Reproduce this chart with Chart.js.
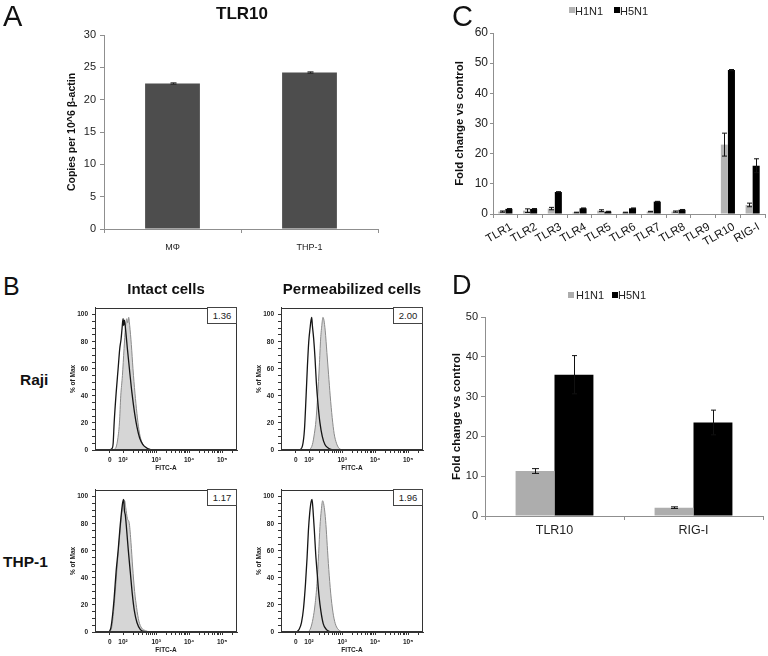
<!DOCTYPE html>
<html><head><meta charset="utf-8">
<script src="https://cdn.jsdelivr.net/npm/chart.js@4.4.1/dist/chart.umd.min.js"></script>
<style>
html,body{margin:0;padding:0;background:#fff;}
#fig{position:relative;width:768px;height:656px;overflow:hidden;font-family:'Liberation Sans',Arial,sans-serif;color:#111;}
canvas{position:absolute;}
.t{position:absolute;line-height:1;white-space:nowrap;}
.num{position:absolute;box-sizing:border-box;border:1px solid #444;width:30px;height:17px;font-size:9.5px;line-height:15px;text-align:center;background:#fff;color:#222;}
.sq{position:absolute;width:6px;height:6px;}
.lg{position:absolute;font-size:11px;line-height:1;white-space:nowrap;color:#222;}
</style></head><body><div id="fig">
<canvas id="cA" width="384" height="260" style="left:0;top:0"></canvas>
<canvas id="cC" width="384" height="270" style="left:384px;top:0"></canvas>
<canvas id="cD" width="384" height="290" style="left:384px;top:270px"></canvas>
<canvas id="fTL" width="182" height="174" style="left:60px;top:300px"></canvas>
<canvas id="fTR" width="182" height="174" style="left:246px;top:300px"></canvas>
<canvas id="fBL" width="182" height="174" style="left:60px;top:482px"></canvas>
<canvas id="fBR" width="182" height="174" style="left:246px;top:482px"></canvas>

<div class="t" style="left:3px;top:2px;font-size:29px">A</div>
<div class="t" style="left:142px;width:200px;text-align:center;top:4.8px;font-size:17px;font-weight:bold">TLR10</div>
<div class="t" style="left:452px;top:2px;font-size:29px">C</div>
<div class="t" style="left:3px;top:273.7px;font-size:25px">B</div>
<div class="t" style="left:452px;top:271.5px;font-size:27px">D</div>
<div class="t" style="left:66px;width:200px;text-align:center;top:281px;font-size:15px;font-weight:bold">Intact cells</div>
<div class="t" style="left:252px;width:200px;text-align:center;top:281px;font-size:15px;font-weight:bold">Permeabilized cells</div>
<div class="t" style="left:20px;top:372px;font-size:15.5px;font-weight:bold">Raji</div>
<div class="t" style="left:3px;top:554px;font-size:15.5px;font-weight:bold">THP-1</div>

<div class="num" style="left:207px;top:307px">1.36</div>
<div class="num" style="left:393px;top:307px">2.00</div>
<div class="num" style="left:207px;top:489px">1.17</div>
<div class="num" style="left:393px;top:489px">1.96</div>

<div class="sq" style="left:569px;top:7px;background:#b3b3b3"></div>
<div class="lg" style="left:575px;top:5.6px">H1N1</div>
<div class="sq" style="left:614px;top:7px;background:#000"></div>
<div class="lg" style="left:620px;top:5.6px">H5N1</div>

<div class="sq" style="left:568px;top:292px;background:#adadad"></div>
<div class="lg" style="left:576px;top:289.6px">H1N1</div>
<div class="sq" style="left:612px;top:292px;background:#000"></div>
<div class="lg" style="left:618px;top:289.6px">H5N1</div>
</div>
<script>
// ---------- Panel A ----------
const aCategories = ['MΦ', 'THP-1'];
const aValues = [22.5, 24.2];
const aErrors = [0.1, 0.1];

// ---------- Panel C ----------
const cCategories = ['TLR1','TLR2','TLR3','TLR4','TLR5','TLR6','TLR7','TLR8','TLR9','TLR10','RIG-I'];
const cH1N1 = [0.8, 1.1, 1.8, 0.5, 1.1, 0.5, 0.8, 0.8, 0, 23.0, 3.0];
const cH5N1 = [1.7, 1.7, 7.3, 1.9, 0.8, 1.9, 4.1, 1.4, 0, 47.7, 16.0];
const cH1N1Err = [0.2, 0.6, 0.4, 0.1, 0.3, 0.1, 0.1, 0.2, 0, 3.8, 0.6];
const cH5N1Err = [0.1, 0.1, 0.1, 0.1, 0.1, 0.1, 0.1, 0.1, 0, 0.2, 2.3];

// ---------- Panel D ----------
const dCategories = ['TLR10', 'RIG-I'];
const dH1N1 = [11.3, 2.1];
const dH5N1 = [35.5, 23.5];
const dH1N1Err = [0.6, 0.2];
const dH5N1Err = [4.8, 3.1];

// ---------- Panel B (flow histograms, x in display decades) ----------
const flowTickValues = [1.6, 2, 3, 4, 5];
const flowTickLabels = ['0', '10²', '10³', '10⁴', '10⁵'];
const rajiIntactIso = [[1.55,0],[1.66,1],[1.70,5],[1.73,20],[1.79,42],[1.85,60],[1.90,75],[1.94,82],[1.97,90],[2.00,97],[2.02,92],[2.04,96],[2.08,88],[2.13,75],[2.20,58],[2.27,42],[2.35,27],[2.42,17],[2.50,9],[2.60,4],[2.72,1.5],[2.85,0]];
const rajiIntactTlr = [[1.72,0],[1.80,3],[1.86,12],[1.89,20],[1.93,40],[1.98,55],[2.03,75],[2.07,90],[2.11,97],[2.14,94],[2.17,98],[2.20,92],[2.25,78],[2.30,60],[2.36,42],[2.42,27],[2.48,15],[2.55,7],[2.63,3],[2.75,1],[2.90,0]];
const rajiPermIso = [[1.72,0],[1.80,3],[1.86,15],[1.91,40],[1.95,62],[1.99,80],[2.03,90],[2.06,96],[2.08,98],[2.10,92],[2.14,82],[2.18,68],[2.22,50],[2.27,34],[2.33,20],[2.40,10],[2.48,4],[2.58,1.5],[2.70,0]];
const rajiPermTlr = [[2.02,0],[2.10,4],[2.16,12],[2.21,22],[2.26,40],[2.31,62],[2.35,82],[2.39,93],[2.42,98],[2.45,96],[2.49,88],[2.54,72],[2.59,56],[2.64,40],[2.70,24],[2.76,12],[2.83,5],[2.90,1.5],[3.00,0]];
const thpIntactIso = [[1.58,0],[1.63,3],[1.68,12],[1.73,25],[1.79,45],[1.85,60],[1.90,75],[1.95,88],[1.99,96],[2.02,98],[2.04,90],[2.07,86],[2.11,75],[2.16,60],[2.22,44],[2.28,28],[2.34,16],[2.42,7],[2.52,2],[2.68,0]];
const thpIntactTlr = [[1.60,0],[1.66,4],[1.72,17],[1.78,35],[1.84,55],[1.90,72],[1.96,88],[2.00,95],[2.05,97],[2.08,92],[2.13,84],[2.19,80],[2.24,66],[2.29,48],[2.35,30],[2.41,18],[2.48,8],[2.56,3],[2.68,1],[2.80,0]];
const thpPermIso = [[1.62,0],[1.70,2],[1.77,7],[1.83,17],[1.89,35],[1.94,55],[1.98,75],[2.02,88],[2.06,96],[2.09,98],[2.12,90],[2.16,75],[2.20,58],[2.25,42],[2.30,27],[2.36,15],[2.43,6],[2.52,2],[2.65,0]];
const thpPermTlr = [[1.98,0],[2.05,3],[2.12,10],[2.18,20],[2.24,36],[2.29,58],[2.33,78],[2.37,90],[2.41,97],[2.44,95],[2.48,88],[2.52,76],[2.56,60],[2.61,42],[2.67,25],[2.74,12],[2.81,5],[2.90,1.5],[3.00,0]];

Chart.defaults.font.family = "'Liberation Sans', Arial, sans-serif";
Chart.defaults.color = '#222';
Chart.defaults.animation = false;

const errorBars = {
  id: 'errorBars',
  afterDatasetsDraw(chart, args, opts) {
    const ctx = chart.ctx, ys = chart.scales.y;
    chart.data.datasets.forEach((ds, i) => {
      if (!ds.errors) return;
      const meta = chart.getDatasetMeta(i);
      meta.data.forEach((bar, j) => {
        const v = ds.data[j], e = ds.errors[j];
        if (!e) return;
        const yT = ys.getPixelForValue(v + e), yB = ys.getPixelForValue(v - e);
        const c = (ds.errCap != null ? ds.errCap : (opts.cap || 3));
        const x = Math.round(bar.x) + 0.5;
        ctx.save();
        ctx.strokeStyle = opts.color || '#000';
        ctx.lineWidth = 1;
        ctx.beginPath();
        ctx.moveTo(x, yT); ctx.lineTo(x, yB);
        ctx.moveTo(x - c, yT); ctx.lineTo(x + c, yT);
        ctx.moveTo(x - c, yB); ctx.lineTo(x + c, yB);
        ctx.stroke();
        ctx.restore();
      });
    });
  }
};

const frame = {
  id: 'frame',
  afterDraw(chart) {
    const {ctx, chartArea: a} = chart;
    ctx.save();
    ctx.strokeStyle = '#333';
    ctx.lineWidth = 1;
    ctx.strokeRect(Math.round(a.left) + 0.5, Math.round(a.top) + 0.5, Math.round(a.width) - 1, Math.round(a.height) - 1);
    ctx.restore();
  }
};

const axisGrey = '#8f8f8f';

// Panel A
new Chart(document.getElementById('cA'), {
  type: 'bar',
  data: { labels: aCategories, datasets: [{ data: aValues, errors: aErrors, backgroundColor: '#4d4d4d', borderWidth: 0, barPercentage: 1, categoryPercentage: 0.4 }] },
  options: {
    responsive: false, devicePixelRatio: 1,
    layout: { padding: { left: 0, top: 35, right: 6, bottom: 0 } },
    plugins: { legend: { display: false }, tooltip: { enabled: false }, errorBars: { cap: 3, color: '#222' } },
    scales: {
      x: { grid: { display: true, drawOnChartArea: false, tickLength: 4, color: axisGrey }, border: { color: axisGrey },
           ticks: { font: { size: 9 }, padding: 9 }, afterFit: s => { s.height = 31; } },
      y: { min: 0, max: 30, ticks: { stepSize: 5, font: { size: 11 }, padding: 4 },
           grid: { display: true, drawOnChartArea: false, tickLength: 4, color: axisGrey }, border: { color: axisGrey },
           title: { display: true, text: 'Copies per 10^6 β-actin', font: { size: 10.5, weight: 'bold' }, padding: { top: 65.7, bottom: 0 }, color: '#111' },
           afterFit: s => { s.width = 104; } }
    }
  },
  plugins: [errorBars]
});

// Panel C
new Chart(document.getElementById('cC'), {
  type: 'bar',
  data: { labels: cCategories, datasets: [
    { label: 'H1N1', data: cH1N1, errors: cH1N1Err, backgroundColor: '#b3b3b3', borderWidth: 0, barPercentage: 1, categoryPercentage: 0.57 },
    { label: 'H5N1', data: cH5N1, errors: cH5N1Err, backgroundColor: '#000000', borderWidth: 0, barPercentage: 1, categoryPercentage: 0.57 }
  ] },
  options: {
    responsive: false, devicePixelRatio: 1,
    layout: { padding: { left: 0, top: 33, right: 3, bottom: 0 } },
    plugins: { legend: { display: false }, tooltip: { enabled: false }, errorBars: { cap: 2.5, color: '#111' } },
    scales: {
      x: { grid: { display: true, drawOnChartArea: false, tickLength: 4, color: axisGrey }, border: { color: axisGrey },
           ticks: { font: { size: 11.5 }, color: '#111', padding: 2, minRotation: 30, maxRotation: 30, autoSkip: false, labelOffset: 6 },
           afterFit: s => { s.height = 56; } },
      y: { min: 0, max: 60, ticks: { stepSize: 10, font: { size: 12 }, padding: 2 },
           grid: { display: true, drawOnChartArea: false, tickLength: 3, color: axisGrey }, border: { color: axisGrey },
           title: { display: true, text: 'Fold change vs control', font: { size: 11.4, weight: 'bold' }, padding: { top: 69.2, bottom: 0 }, color: '#111' },
           afterFit: s => { s.width = 109; } }
    }
  },
  plugins: [errorBars]
});

// Panel D
new Chart(document.getElementById('cD'), {
  type: 'bar',
  data: { labels: dCategories, datasets: [
    { label: 'H1N1', data: dH1N1, errors: dH1N1Err, errCap: 3.5, backgroundColor: '#adadad', borderWidth: 0, barPercentage: 1, categoryPercentage: 0.56 },
    { label: 'H5N1', data: dH5N1, errors: dH5N1Err, errCap: 2.5, backgroundColor: '#000000', borderWidth: 0, barPercentage: 1, categoryPercentage: 0.56 }
  ] },
  options: {
    responsive: false, devicePixelRatio: 1,
    layout: { padding: { left: 0, top: 47, right: 5, bottom: 0 } },
    plugins: { legend: { display: false }, tooltip: { enabled: false }, errorBars: { cap: 3, color: '#111' } },
    scales: {
      x: { grid: { display: true, drawOnChartArea: false, tickLength: 4, color: axisGrey }, border: { color: axisGrey },
           ticks: { font: { size: 12.5 }, padding: 3 }, afterFit: s => { s.height = 44; } },
      y: { min: 0, max: 50, ticks: { stepSize: 10, font: { size: 11 }, padding: 3 },
           grid: { display: true, drawOnChartArea: false, tickLength: 4, color: axisGrey }, border: { color: axisGrey },
           title: { display: true, text: 'Fold change vs control', font: { size: 11.6, weight: 'bold' }, padding: { top: 66, bottom: 0 }, color: '#111' },
           afterFit: s => { s.width = 101; } }
    }
  },
  plugins: [errorBars]
});

// Panel B histograms
function toXY(arr) { return arr.map(p => ({ x: p[0], y: p[1] })); }
function makeFlow(id, iso, tlr) {
  new Chart(document.getElementById(id), {
    type: 'line',
    data: { datasets: [
      { data: toXY(iso), borderColor: '#151515', borderWidth: 1.3, fill: false, pointRadius: 0, cubicInterpolationMode: 'monotone', order: 0 },
      { data: toXY(tlr), borderColor: '#8a8a8a', backgroundColor: '#d6d6d6', borderWidth: 1, fill: 'origin', pointRadius: 0, cubicInterpolationMode: 'monotone', order: 1 }
    ] },
    options: {
      responsive: false, devicePixelRatio: 1,
      layout: { padding: { left: 0, top: 7, right: 5, bottom: 0 } },
      plugins: { legend: { display: false }, tooltip: { enabled: false } },
      scales: {
        x: { type: 'linear', min: 1.15, max: 5.45,
             afterBuildTicks: s => {
               const t = flowTickValues.map(v => ({ value: v }));
               [2, 3, 4, 5].forEach(d => { for (let k = 2; k <= 9; k++) { const v = d + Math.log10(k); if (v < 5.45) t.push({ value: v }); } });
               t.sort((a, b) => a.value - b.value);
               s.ticks = t;
             },
             ticks: { autoSkip: false, maxRotation: 0, minRotation: 0, padding: 3, font: { size: 6.5, weight: 'bold' }, color: '#222',
                      callback: v => { const i = flowTickValues.indexOf(v); return i >= 0 ? flowTickLabels[i] : ''; } },
             grid: { display: true, drawOnChartArea: false, tickLength: 3, color: '#333' }, border: { color: '#333' },
             title: { display: true, text: 'FITC-A', font: { size: 6.5, weight: 'bold' }, padding: { top: 0, bottom: 1.5 }, color: '#222' },
             afterFit: s => { s.height = 24; } },
        y: { min: 0, max: 105,
             afterBuildTicks: s => { s.ticks = s.ticks.filter(t => t.value <= 100); },
             ticks: { stepSize: 5, autoSkip: false, padding: 4, font: { size: 6.5, weight: 'bold' }, color: '#222',
                      callback: v => (v % 20 === 0 ? v : '') },
             grid: { display: true, drawOnChartArea: false, tickLength: 3, color: '#333' }, border: { color: '#333' },
             title: { display: true, text: '% of Max', font: { size: 6.5, weight: 'bold' }, padding: { top: 9.4, bottom: 0 }, color: '#222' },
             afterFit: s => { s.width = 35; } }
      }
    },
    plugins: [frame]
  });
}
makeFlow('fTL', rajiIntactIso, rajiIntactTlr);
makeFlow('fTR', rajiPermIso, rajiPermTlr);
makeFlow('fBL', thpIntactIso, thpIntactTlr);
makeFlow('fBR', thpPermIso, thpPermTlr);
</script>
</body></html>
